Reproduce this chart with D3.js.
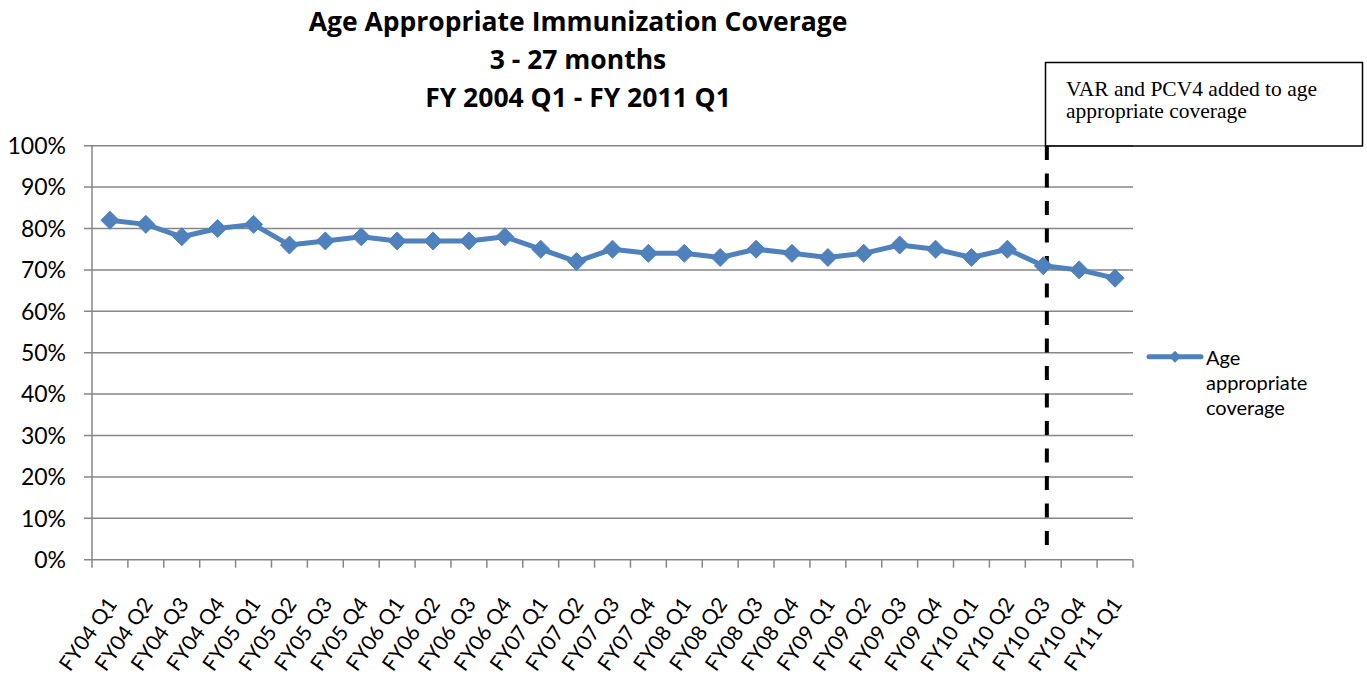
<!DOCTYPE html>
<html>
<head>
<meta charset="utf-8">
<script src="https://cdn.jsdelivr.net/npm/d3@7"></script>
<style>
  body { margin: 0; background: #fff; }
  svg { display: block; }
</style>
</head>
<body>
<svg id="chart"></svg>
<script>
const width = 1367;
const height = 675;

const quarters = ['FY04 Q1','FY04 Q2','FY04 Q3','FY04 Q4','FY05 Q1','FY05 Q2','FY05 Q3','FY05 Q4',
                  'FY06 Q1','FY06 Q2','FY06 Q3','FY06 Q4','FY07 Q1','FY07 Q2','FY07 Q3','FY07 Q4',
                  'FY08 Q1','FY08 Q2','FY08 Q3','FY08 Q4','FY09 Q1','FY09 Q2','FY09 Q3','FY09 Q4',
                  'FY10 Q1','FY10 Q2','FY10 Q3','FY10 Q4','FY11 Q1'];
const coverage = [82, 81, 78, 80, 81, 76, 77, 78,
                  77, 77, 77, 78, 75, 72, 75, 74,
                  74, 73, 75, 74, 73, 74, 76, 75,
                  73, 75, 71, 70, 68];
const yTicks = [0, 10, 20, 30, 40, 50, 60, 70, 80, 90, 100];
const titleLines = ['Age Appropriate Immunization Coverage', '3 - 27 months', 'FY 2004 Q1 - FY 2011 Q1'];
const seriesName = ['Age', 'appropriate', 'coverage'];
const noteQuarter = 'FY10 Q3';
const noteLines = ['VAR and PCV4 added to age', 'appropriate coverage'];

const blue = '#4F81BD';
const grey = '#868686';
const sans = 'Lato, "Open Sans", sans-serif';

const svg = d3.select('#chart').attr('width', width).attr('height', height);

const x = d3.scaleBand().domain(quarters).range([92, 1133]);
const y = d3.scaleLinear().domain([0, 100]).range([559.7, 145.7]);
const cx = d => x(d) + x.bandwidth() / 2;

// grid
svg.append('g')
  .selectAll('line')
  .data(yTicks)
  .enter()
  .append('line')
  .attr('x1', 84).attr('x2', 1133)
  .attr('y1', d => y(d)).attr('y2', d => y(d))
  .attr('stroke', grey).attr('stroke-width', 1.5);

// y axis line + labels
svg.append('line')
  .attr('x1', 92).attr('x2', 92)
  .attr('y1', y(100)).attr('y2', y(0))
  .attr('stroke', grey).attr('stroke-width', 1.5);

svg.append('g')
  .selectAll('text')
  .data(yTicks)
  .enter()
  .append('text')
  .attr('x', 66)
  .attr('y', d => y(d))
  .attr('dy', '0.36em')
  .attr('text-anchor', 'end')
  .style('font-family', sans)
  .style('font-size', '23px')
  .style('fill', '#000')
  .text(d => d + '%');

// x axis ticks
const xTickPos = quarters.map(q => x(q)).concat([x.range()[1]]);
svg.append('g')
  .selectAll('line')
  .data(xTickPos)
  .enter()
  .append('line')
  .attr('x1', d => d).attr('x2', d => d)
  .attr('y1', y(0)).attr('y2', y(0) + 8)
  .attr('stroke', grey).attr('stroke-width', 1.5);

svg.append('g')
  .selectAll('text')
  .data(quarters)
  .enter()
  .append('text')
  .attr('transform', d => `translate(${cx(d) + 8}, 604) rotate(-55)`)
  .attr('text-anchor', 'end')
  .style('font-family', sans)
  .style('font-size', '21px')
  .style('fill', '#000')
  .text(d => d);

// note: dashed line + box
const noteX = x(noteQuarter) + x.bandwidth() * 0.6;
svg.append('line')
  .attr('x1', noteX).attr('x2', noteX)
  .attr('y1', 146).attr('y2', 555)
  .attr('stroke', '#000').attr('stroke-width', 4)
  .attr('stroke-dasharray', '14,13.5');

svg.append('rect')
  .attr('x', 1045.5).attr('y', 62.5)
  .attr('width', 317).attr('height', 83.5)
  .attr('fill', 'none')
  .attr('stroke', '#000').attr('stroke-width', 1.5);

svg.append('g')
  .selectAll('text')
  .data(noteLines)
  .enter()
  .append('text')
  .attr('x', 1066)
  .attr('y', (d, i) => 95.5 + i * 22.5)
  .style('font-family', '"Liberation Serif", "Times New Roman", serif')
  .style('font-size', '21.5px')
  .style('fill', '#000')
  .text(d => d);

// series
const line = d3.line()
  .x((d, i) => cx(quarters[i]))
  .y(d => y(d));

svg.append('path')
  .datum(coverage)
  .attr('d', line)
  .attr('fill', 'none')
  .attr('stroke', blue)
  .attr('stroke-width', 5)
  .attr('stroke-linejoin', 'round');

const diamond = s => `M0,${-s}L${s},0L0,${s}L${-s},0Z`;
svg.append('g')
  .selectAll('path')
  .data(coverage)
  .enter()
  .append('path')
  .attr('transform', (d, i) => `translate(${cx(quarters[i])}, ${y(d)})`)
  .attr('d', diamond(9))
  .attr('fill', blue)
  .attr('stroke', blue)
  .attr('stroke-width', 1);

// legend
svg.append('line')
  .attr('x1', 1149).attr('x2', 1201)
  .attr('y1', 356.7).attr('y2', 356.7)
  .attr('stroke', blue).attr('stroke-width', 5)
  .attr('stroke-linecap', 'round');
svg.append('path')
  .attr('transform', 'translate(1175, 356.7)')
  .attr('d', diamond(6))
  .attr('fill', blue);

svg.append('g')
  .selectAll('text')
  .data(seriesName)
  .enter()
  .append('text')
  .attr('x', 1206)
  .attr('y', (d, i) => 365 + i * 25)
  .style('font-family', sans)
  .style('font-size', '20px')
  .style('fill', '#000')
  .text(d => d);

// title
svg.append('g')
  .selectAll('text')
  .data(titleLines)
  .enter()
  .append('text')
  .attr('x', 578)
  .attr('y', (d, i) => 31 + i * 38)
  .attr('text-anchor', 'middle')
  .style('font-family', '"Open Sans", Lato, sans-serif')
  .style('font-weight', 'bold')
  .style('font-size', '26.5px')
  .style('fill', '#000')
  .text(d => d);
</script>
</body>
</html>
